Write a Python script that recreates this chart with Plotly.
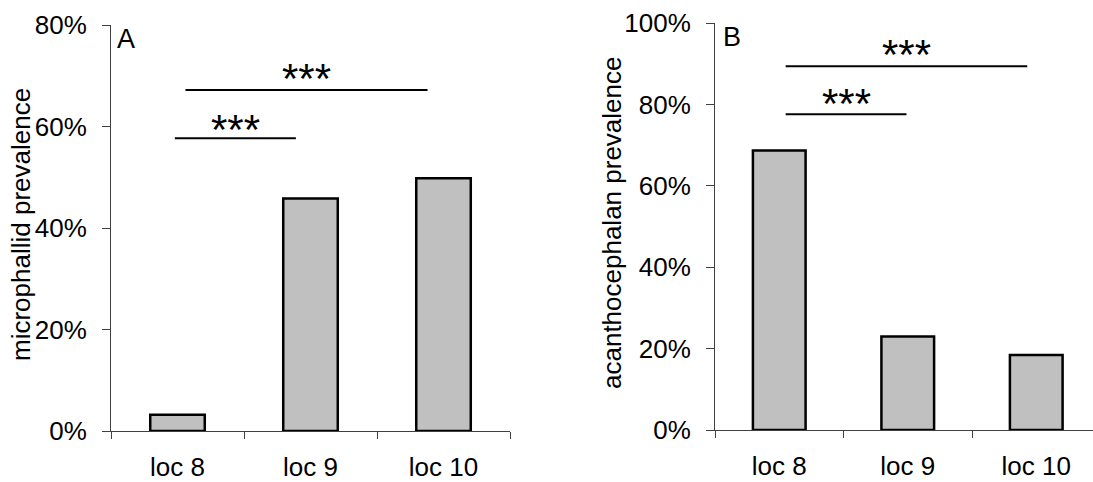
import plotly.graph_objects as go

categories = ["loc 8", "loc 9", "loc 10"]
micro_prev = [3.2, 45.8, 49.8]          # panel A, %
acantho_prev = [68.7, 23.0, 18.4]       # panel B, %
y_ticks_a = [0, 20, 40, 60, 80]
y_labels_a = ["0%", "20%", "40%", "60%", "80%"]
y_ticks_b = [0, 20, 40, 60, 80, 100]
y_labels_b = ["0%", "20%", "40%", "60%", "80%", "100%"]

# significance brackets: (x0, x1, y, star_y)
sig_a = [(-0.02, 0.89, 57.7, 59.5), (0.06, 1.88, 67.2, 69.5)]
sig_b = [(0.05, 0.99, 77.6, 80.1), (0.05, 1.93, 89.4, 92.3)]

FONT = "Liberation Sans, Arial, sans-serif"
TICKF = dict(family=FONT, size=26, color="black")
AX = "#404040"

fig = go.Figure()
fig.add_trace(go.Bar(x=categories, y=micro_prev, xaxis="x", yaxis="y", width=0.41,
                     marker=dict(color="#c0c0c0", line=dict(color="black", width=2.5))))
fig.add_trace(go.Bar(x=categories, y=acantho_prev, xaxis="x2", yaxis="y2", width=0.41,
                     marker=dict(color="#c0c0c0", line=dict(color="black", width=2.5))))

common_x = dict(type="category", tickson="boundaries", ticks="outside", ticklen=7,
                tickcolor=AX, showline=True, linecolor=AX, linewidth=1, automargin=False,
                showgrid=False, zeroline=False, tickfont=TICKF, ticklabelstandoff=13)
common_y = dict(ticks="outside", ticklen=8, tickcolor=AX, showline=True, linecolor=AX,
                linewidth=1, showgrid=False, zeroline=False, tickfont=TICKF, automargin=False,
                ticklabelstandoff=10)

fig.update_layout(
    width=1093, height=482, margin=dict(l=0, r=0, t=0, b=0, autoexpand=False),
    paper_bgcolor="white", plot_bgcolor="white", showlegend=False,
    xaxis=dict(domain=[111/1093, 510/1093], range=[-0.5, 2.5], anchor="y", **common_x),
    yaxis=dict(domain=[51/482, 457/482], range=[0, 80], tickvals=y_ticks_a,
               ticktext=y_labels_a, anchor="x", **common_y),
    xaxis2=dict(domain=[715/1093, 1.0], range=[-0.5, 2.4416], anchor="y2", **common_x),
    yaxis2=dict(domain=[52/482, 459/482], range=[0, 100], tickvals=y_ticks_b,
                ticktext=y_labels_b, anchor="x2", **common_y),
)

for (x0, x1, y, sy) in sig_a:
    fig.add_shape(type="line", xref="x", yref="y", x0=x0, x1=x1, y0=y, y1=y,
                  line=dict(color="black", width=2))
    fig.add_annotation(xref="x", yref="y", x=(x0 + x1) / 2, y=sy, text="***", showarrow=False,
                       font=dict(family=FONT, size=42, color="black"), yanchor="middle")
for (x0, x1, y, sy) in sig_b:
    fig.add_shape(type="line", xref="x2", yref="y2", x0=x0, x1=x1, y0=y, y1=y,
                  line=dict(color="black", width=2))
    fig.add_annotation(xref="x2", yref="y2", x=(x0 + x1) / 2, y=sy, text="***", showarrow=False,
                       font=dict(family=FONT, size=42, color="black"), yanchor="middle")

fig.add_annotation(xref="paper", yref="paper", x=115/1093, y=1 - 22/482, text="A",
                   showarrow=False, xanchor="left", yanchor="top",
                   font=dict(family=FONT, size=27, color="black"))
fig.add_annotation(xref="paper", yref="paper", x=721/1093, y=1 - 20/482, text="B",
                   showarrow=False, xanchor="left", yanchor="top",
                   font=dict(family=FONT, size=27, color="black"))

fig.add_annotation(xref="paper", yref="paper", x=21/1093, y=1 - 225/482,
                   text="microphallid prevalence", textangle=-90, showarrow=False,
                   xanchor="center", yanchor="middle", font=dict(family=FONT, size=26, color="black"))
fig.add_annotation(xref="paper", yref="paper", x=612/1093, y=1 - 223/482,
                   text="acanthocephalan prevalence", textangle=-90, showarrow=False,
                   xanchor="center", yanchor="middle", font=dict(family=FONT, size=26, color="black"))

fig.write_html("out.html")
